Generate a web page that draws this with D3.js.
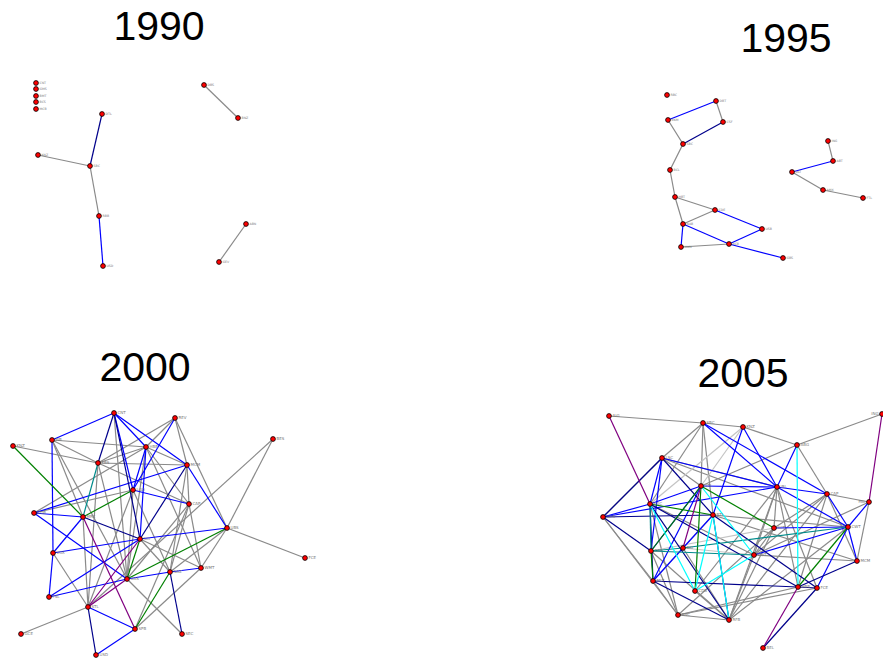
<!DOCTYPE html>
<html>
<head>
<meta charset="utf-8">
<script src="https://cdn.jsdelivr.net/npm/d3@7"></script>
<style>
  body { margin: 0; background: #fff; }
</style>
</head>
<body>
<svg></svg>
<script>
// layout positions of each network (units are local to the panel)
var years = ["1990", "1995", "2000", "2005"];

var nodes1990 = [
  ["CNT", 16, 8], ["GMS", 16, 14], ["BMT", 16, 21], ["BCS", 16, 27], ["MCB", 16, 34],
  ["DTL", 82, 39], ["KNZ", 18, 80], ["SBC", 70, 91], ["RBB", 79, 141], ["USD", 83, 191],
  ["DBS", 184, 10], ["BNZ", 218, 43], ["ABN", 226, 149], ["GEV", 199, 187]
];
var links1990 = [
  ["DTL", "SBC", "navy"], ["KNZ", "SBC", "gray"], ["SBC", "RBB", "gray"],
  ["RBB", "USD", "blue"], ["DBS", "BNZ", "gray"], ["ABN", "GEV", "gray"]
];

var nodes1995 = [
  ["RBC", 7, 5], ["DBT", 56, 11], ["BKM", 8, 30], ["CSF", 63, 32], ["SBC", 23, 54],
  ["BCL", 10, 80], ["HBT", 15, 107], ["CDE", 55, 120], ["NAB", 23, 134], ["USB", 102, 139],
  ["MKN", 21, 157], ["BCB", 69, 154], ["GBS", 123, 168],
  ["ING", 168, 51], ["ABT", 173, 71], ["DLT", 132, 82], ["AMX", 163, 100], ["FTL", 203, 108]
];
var links1995 = [
  ["BKM", "DBT", "blue"], ["DBT", "CSF", "gray"], ["CSF", "SBC", "navy"], ["BKM", "SBC", "gray"],
  ["SBC", "BCL", "gray"], ["BCL", "HBT", "gray"], ["HBT", "CDE", "gray"], ["HBT", "NAB", "gray"],
  ["NAB", "CDE", "gray"], ["CDE", "USB", "blue"], ["NAB", "MKN", "blue"], ["NAB", "BCB", "blue"],
  ["BCB", "GBS", "blue"], ["MKN", "BCB", "gray"], ["BCB", "USB", "blue"],
  ["ING", "ABT", "gray"], ["DLT", "ABT", "blue"], ["DLT", "AMX", "gray"], ["AMX", "FTL", "gray"]
];

var nodes2000 = [
  ["CNT", 104, 3], ["REV", 165, 8], ["PIB", 42, 30], ["KNZ", 3, 36], ["HBB", 136, 37],
  ["KBS", 88, 53], ["MCM", 177, 55], ["BES", 263, 29], ["LGO", 123, 80], ["CAP", 179, 94],
  ["CDB", 24, 103], ["MRC", 73, 107], ["UBS", 217, 118], ["SCI", 130, 129], ["VOX", 43, 143],
  ["NAZ", 160, 162], ["WMT", 191, 158], ["UAS", 117, 169], ["FSL", 39, 187], ["STL", 78, 197],
  ["SPB", 125, 219], ["SEC", 172, 224], ["GCE", 11, 224], ["USD", 86, 245], ["FCE", 295, 148]
];
var links2000 = [
  ["PIB", "HBB", "gray"], ["PIB", "KBS", "gray"], ["PIB", "UAS", "gray"], ["KNZ", "KBS", "gray"],
  ["KBS", "MCM", "gray"], ["KBS", "HBB", "gray"], ["KBS", "UAS", "gray"], ["KBS", "CAP", "gray"],
  ["KBS", "STL", "gray"], ["REV", "HBB", "gray"], ["REV", "KBS", "gray"], ["REV", "MCM", "gray"],
  ["REV", "UBS", "gray"], ["HBB", "MCM", "gray"], ["HBB", "CAP", "gray"], ["HBB", "UAS", "gray"],
  ["HBB", "WMT", "gray"], ["HBB", "CDB", "gray"], ["MCM", "CAP", "gray"], ["MCM", "NAZ", "gray"],
  ["CAP", "UAS", "gray"], ["CAP", "NAZ", "gray"], ["CAP", "WMT", "gray"], ["CAP", "SPB", "gray"],
  ["LGO", "UAS", "gray"], ["LGO", "NAZ", "gray"], ["BES", "UBS", "gray"], ["BES", "STL", "gray"],
  ["UBS", "FCE", "gray"], ["UBS", "WMT", "gray"], ["UBS", "NAZ", "gray"], ["MRC", "STL", "gray"],
  ["MRC", "PIB", "gray"], ["VOX", "STL", "gray"], ["UAS", "SEC", "gray"], ["WMT", "SPB", "gray"],
  ["GCE", "STL", "gray"], ["SCI", "NAZ", "gray"], ["SCI", "WMT", "gray"], ["LGO", "STL", "gray"],
  ["CNT", "UAS", "gray"], ["CDB", "LGO", "gray"],
  ["PIB", "CNT", "blue"], ["PIB", "VOX", "blue"], ["VOX", "FSL", "blue"], ["CNT", "LGO", "blue"],
  ["CNT", "HBB", "blue"], ["CNT", "MCM", "blue"], ["REV", "LGO", "blue"], ["HBB", "LGO", "blue"],
  ["LGO", "CAP", "blue"], ["MCM", "UBS", "blue"], ["MCM", "CDB", "blue"], ["CDB", "MRC", "blue"],
  ["CDB", "UAS", "blue"], ["MRC", "VOX", "blue"], ["SCI", "VOX", "blue"], ["FSL", "SCI", "blue"],
  ["FSL", "UAS", "blue"], ["UAS", "NAZ", "blue"], ["NAZ", "WMT", "blue"], ["SCI", "UBS", "blue"],
  ["STL", "SPB", "blue"], ["USD", "SPB", "blue"], ["HBB", "SCI", "blue"],
  ["CNT", "KBS", "navy"], ["CNT", "SCI", "navy"], ["MCM", "SCI", "navy"], ["MRC", "SCI", "navy"],
  ["STL", "USD", "navy"], ["NAZ", "SEC", "navy"],
  ["KNZ", "MRC", "green"], ["LGO", "MRC", "green"], ["SCI", "UAS", "green"], ["UBS", "UAS", "green"],
  ["NAZ", "SPB", "green"], ["KBS", "MRC", "teal"],
  ["MRC", "SPB", "purple"], ["SCI", "STL", "purple"], ["UAS", "STL", "purple"]
];

var nodes2005 = [
  ["AIG", 9, 6], ["SBC", 103, 13], ["KNZ", 143, 17], ["ING", 282, 4], ["LSC", 62, 48],
  ["ABG", 197, 35], ["GTL", 101, 76], ["IRL", 177, 77], ["CAP", 227, 84], ["PAL", 269, 92],
  ["SGC", 50, 94], ["GCB", 3, 107], ["BTL", 113, 105], ["SCT", 174, 118], ["CWT", 248, 117],
  ["DEF", 51, 141], ["BKI", 83, 138], ["WST", 154, 145], ["MCM", 257, 151], ["MLT", 53, 171],
  ["CDB", 95, 181], ["HBB", 198, 177], ["FCE", 217, 178], ["ANC", 78, 205], ["RFB", 129, 210],
  ["BEL", 163, 238]
];
var links2005 = [
  ["AIG", "SBC", "gray"], ["SBC", "KNZ", "gray"], ["SBC", "LSC", "gray"], ["SBC", "GTL", "gray"],
  ["SBC", "SGC", "gray"], ["SBC", "BTL", "gray"], ["KNZ", "ABG", "gray"], ["ING", "ABG", "gray"],
  ["ABG", "CAP", "gray"], ["LSC", "IRL", "gray"], ["LSC", "GTL", "gray"], ["IRL", "SCT", "gray"],
  ["IRL", "HBB", "gray"], ["IRL", "FCE", "gray"], ["IRL", "CDB", "gray"], ["IRL", "WST", "gray"],
  ["IRL", "RFB", "gray"], ["CAP", "SCT", "gray"], ["CAP", "WST", "gray"], ["CAP", "RFB", "gray"],
  ["CAP", "HBB", "gray"], ["CAP", "PAL", "gray"], ["CAP", "MCM", "gray"], ["PAL", "WST", "gray"],
  ["BTL", "CWT", "gray"], ["BTL", "MCM", "gray"], ["GCB", "MLT", "gray"], ["GCB", "ANC", "gray"],
  ["MLT", "ANC", "gray"], ["ANC", "RFB", "gray"], ["ANC", "DEF", "gray"], ["RFB", "WST", "gray"],
  ["RFB", "SCT", "gray"], ["ANC", "FCE", "gray"], ["SGC", "ANC", "gray"], ["CDB", "RFB", "gray"],
  ["SCT", "ANC", "gray"], ["MCM", "WST", "gray"], ["SGC", "WST", "gray"], ["ABG", "GTL", "gray"],
  ["RFB", "CWT", "gray"], ["HBB", "ANC", "gray"], ["BKI", "RFB", "gray"], ["DEF", "RFB", "gray"],
  ["GCB", "LSC", "gray"], ["PAL", "MCM", "gray"], ["SCT", "WST", "gray"], ["LSC", "CWT", "gray"],
  ["KNZ", "GTL", "lightgray"], ["KNZ", "SGC", "lightgray"], ["BKI", "WST", "lightgray"],
  ["BTL", "MLT", "lightgray"], ["DEF", "SCT", "lightgray"],
  ["SBC", "IRL", "blue"], ["KNZ", "IRL", "blue"], ["KNZ", "BTL", "blue"], ["LSC", "SGC", "blue"],
  ["LSC", "DEF", "blue"], ["GTL", "SGC", "blue"], ["GTL", "DEF", "blue"], ["GTL", "MLT", "blue"],
  ["ABG", "IRL", "blue"], ["IRL", "LSC", "blue"], ["IRL", "GCB", "blue"], ["IRL", "CAP", "blue"],
  ["IRL", "CWT", "blue"], ["IRL", "GTL", "blue"], ["CAP", "CWT", "blue"], ["PAL", "CWT", "blue"],
  ["CWT", "SCT", "blue"], ["CWT", "WST", "blue"], ["CWT", "MCM", "blue"], ["CWT", "FCE", "blue"],
  ["GCB", "SGC", "blue"], ["BTL", "BKI", "blue"], ["BKI", "MLT", "blue"], ["SBC", "CAP", "blue"],
  ["LSC", "GCB", "navy"], ["LSC", "BTL", "navy"], ["GCB", "BTL", "navy"], ["SGC", "RFB", "navy"],
  ["SGC", "HBB", "navy"], ["GCB", "DEF", "navy"], ["MLT", "HBB", "navy"], ["MLT", "RFB", "navy"],
  ["MCM", "HBB", "navy"], ["HBB", "FCE", "navy"], ["FCE", "BEL", "navy"], ["BTL", "RFB", "navy"],
  ["SGC", "MLT", "navy"], ["BTL", "FCE", "navy"],
  ["GTL", "DEF", "green"], ["GTL", "CDB", "green"], ["SGC", "BTL", "green"], ["GTL", "SCT", "green"],
  ["CWT", "HBB", "green"], ["DEF", "MLT", "green"],
  ["SGC", "DEF", "teal"], ["DEF", "BKI", "teal"], ["DEF", "WST", "teal"], ["BKI", "CWT", "teal"],
  ["ABG", "HBB", "cyan"], ["SGC", "CDB", "cyan"], ["GTL", "WST", "cyan"], ["BTL", "CDB", "cyan"],
  ["WST", "CDB", "cyan"], ["BTL", "RFB", "cyan"],
  ["AIG", "SGC", "purple"], ["GTL", "BKI", "purple"], ["ING", "PAL", "purple"], ["HBB", "BEL", "purple"]
];

var edgeColors = {
  gray: "#8a8a8a", lightgray: "#c4c4c4", blue: "#0000ff", navy: "#00008b",
  green: "#008000", teal: "#008b8b", purple: "#800080", cyan: "#00ffff"
};

var W = 883, H = 660;
var svg = d3.select("svg").attr("width", W).attr("height", H);

// where each panel sits and where its year is written
var panels = [
  { year: years[0], nodes: nodes1990, links: links1990, ox: 20, oy: 75, tx: 159, ty: 40, fs: 3.2 },
  { year: years[1], nodes: nodes1995, links: links1995, ox: 660, oy: 90, tx: 786, ty: 52, fs: 3.2 },
  { year: years[2], nodes: nodes2000, links: links2000, ox: 10, oy: 410, tx: 145, ty: 381, fs: 4 },
  { year: years[3], nodes: nodes2005, links: links2005, ox: 600, oy: 410, tx: 743, ty: 387, fs: 4 }
];

panels.forEach(function(p) {
  var x = d3.scaleLinear().domain([0, 300]).range([p.ox, p.ox + 300]);
  var y = d3.scaleLinear().domain([0, 300]).range([p.oy, p.oy + 300]);
  var byName = {};
  p.nodes.forEach(function(n) { byName[n[0]] = n; });

  var g = svg.append("g");

  g.append("text")
    .attr("x", p.tx)
    .attr("y", p.ty)
    .attr("text-anchor", "middle")
    .attr("font-family", "Liberation Sans, Arial, sans-serif")
    .attr("font-size", 41)
    .attr("fill", "#000")
    .text(p.year);

  g.selectAll("line")
    .data(p.links)
    .enter().append("line")
    .attr("x1", function(d) { return x(byName[d[0]][1]); })
    .attr("y1", function(d) { return y(byName[d[0]][2]); })
    .attr("x2", function(d) { return x(byName[d[1]][1]); })
    .attr("y2", function(d) { return y(byName[d[1]][2]); })
    .attr("stroke", function(d) { return edgeColors[d[2]]; })
    .attr("stroke-width", 1.2);

  g.selectAll("circle")
    .data(p.nodes)
    .enter().append("circle")
    .attr("cx", function(d) { return x(d[1]); })
    .attr("cy", function(d) { return y(d[2]); })
    .attr("r", 2.4)
    .attr("fill", "#ff0000")
    .attr("stroke", "#000")
    .attr("stroke-width", 0.8);

  // labels sit to the right of the node, or to the left when too close to the edge
  g.selectAll("text.lbl")
    .data(p.nodes)
    .enter().append("text")
    .attr("class", "lbl")
    .attr("x", function(d) { return x(d[1]) > W - 15 ? x(d[1]) - 3.5 : x(d[1]) + 3.5; })
    .attr("y", function(d) { return y(d[2]) + 1.4; })
    .attr("text-anchor", function(d) { return x(d[1]) > W - 15 ? "end" : "start"; })
    .attr("font-family", "DejaVu Sans, sans-serif")
    .attr("font-size", p.fs)
    .attr("fill", "#777")
    .text(function(d) { return d[0]; });
});
</script>
</body>
</html>
